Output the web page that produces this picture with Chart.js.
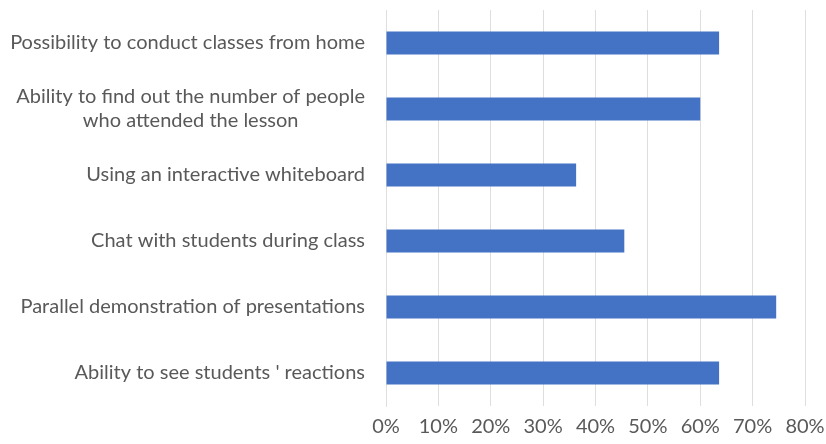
<!DOCTYPE html>
<html>
<head>
<meta charset="utf-8">
<script src="https://cdn.jsdelivr.net/npm/chart.js@4.4.1/dist/chart.umd.min.js"></script>
<style>
  html, body { margin: 0; padding: 0; background: #fff; }
  #wrap { width: 826px; height: 444px; }
</style>
</head>
<body>
<div id="wrap"><canvas id="myChart"></canvas></div>
<script>
// survey answers, share of respondents
const features = [
  "Possibility to conduct classes from home",
  ["Ability to find out the number of people", "who attended the lesson"],
  "Using an interactive whiteboard",
  "Chat with students during class",
  "Parallel demonstration of presentations",
  "Ability to see students ' reactions"
];
const shares = [63.6, 60.0, 36.3, 45.5, 74.5, 63.6];
const xTicks = [0, 10, 20, 30, 40, 50, 60, 70, 80];

const textColor = "#595959";
const fontFamily = "Lato, 'Open Sans', sans-serif";
const labelFont = "20px " + fontFamily;
const labelGap = 21;
const lineStep = 24;

// category labels: right edge at the axis, wrapped lines centred on each other
const categoryLabels = {
  id: "categoryLabels",
  afterDraw(chart) {
    const ctx = chart.ctx;
    const yAxis = chart.scales.y;
    const right = chart.chartArea.left - labelGap;
    ctx.save();
    ctx.font = labelFont;
    ctx.fillStyle = textColor;
    ctx.textAlign = "center";
    ctx.textBaseline = "middle";
    features.forEach((label, i) => {
      const lines = Array.isArray(label) ? label : [label];
      const widest = Math.max(...lines.map(l => ctx.measureText(l).width));
      const cx = right - widest / 2;
      const cy = yAxis.getPixelForTick(i);
      const top = cy - (lines.length - 1) * lineStep / 2;
      lines.forEach((l, k) => ctx.fillText(l, cx, top + k * lineStep));
    });
    ctx.restore();
  }
};

new Chart(document.getElementById("myChart").getContext("2d"), {
  type: "bar",
  data: {
    labels: features,
    datasets: [{
      data: shares,
      backgroundColor: "#4472C4",
      borderWidth: 0,
      categoryPercentage: 1,
      barPercentage: 0.35
    }]
  },
  options: {
    indexAxis: "y",
    responsive: true,
    maintainAspectRatio: false,
    animation: false,
    layout: { padding: { top: 10, right: 21, left: 0, bottom: 0 } },
    plugins: { legend: { display: false }, tooltip: { enabled: false } },
    scales: {
      x: {
        min: 0,
        max: 80,
        afterBuildTicks: axis => { axis.ticks = xTicks.map(v => ({ value: v })); },
        afterFit: axis => {
          axis.height = 38;
          axis.paddingLeft = 0;
          axis.paddingRight = 0;
        },
        grid: { color: "#dedede", lineWidth: 1, drawTicks: false },
        border: { display: false },
        ticks: {
          padding: 9,
          color: textColor,
          font: { family: fontFamily, size: 20 },
          callback: v => v + "%"
        }
      },
      y: {
        afterFit: axis => {
          axis.width = 386;
          axis.paddingTop = 0;
          axis.paddingBottom = 0;
        },
        grid: { display: false, drawTicks: false },
        border: { display: true, color: "#dedede", width: 1 },
        ticks: { display: false }
      }
    }
  },
  plugins: [categoryLabels]
});
</script>
</body>
</html>
